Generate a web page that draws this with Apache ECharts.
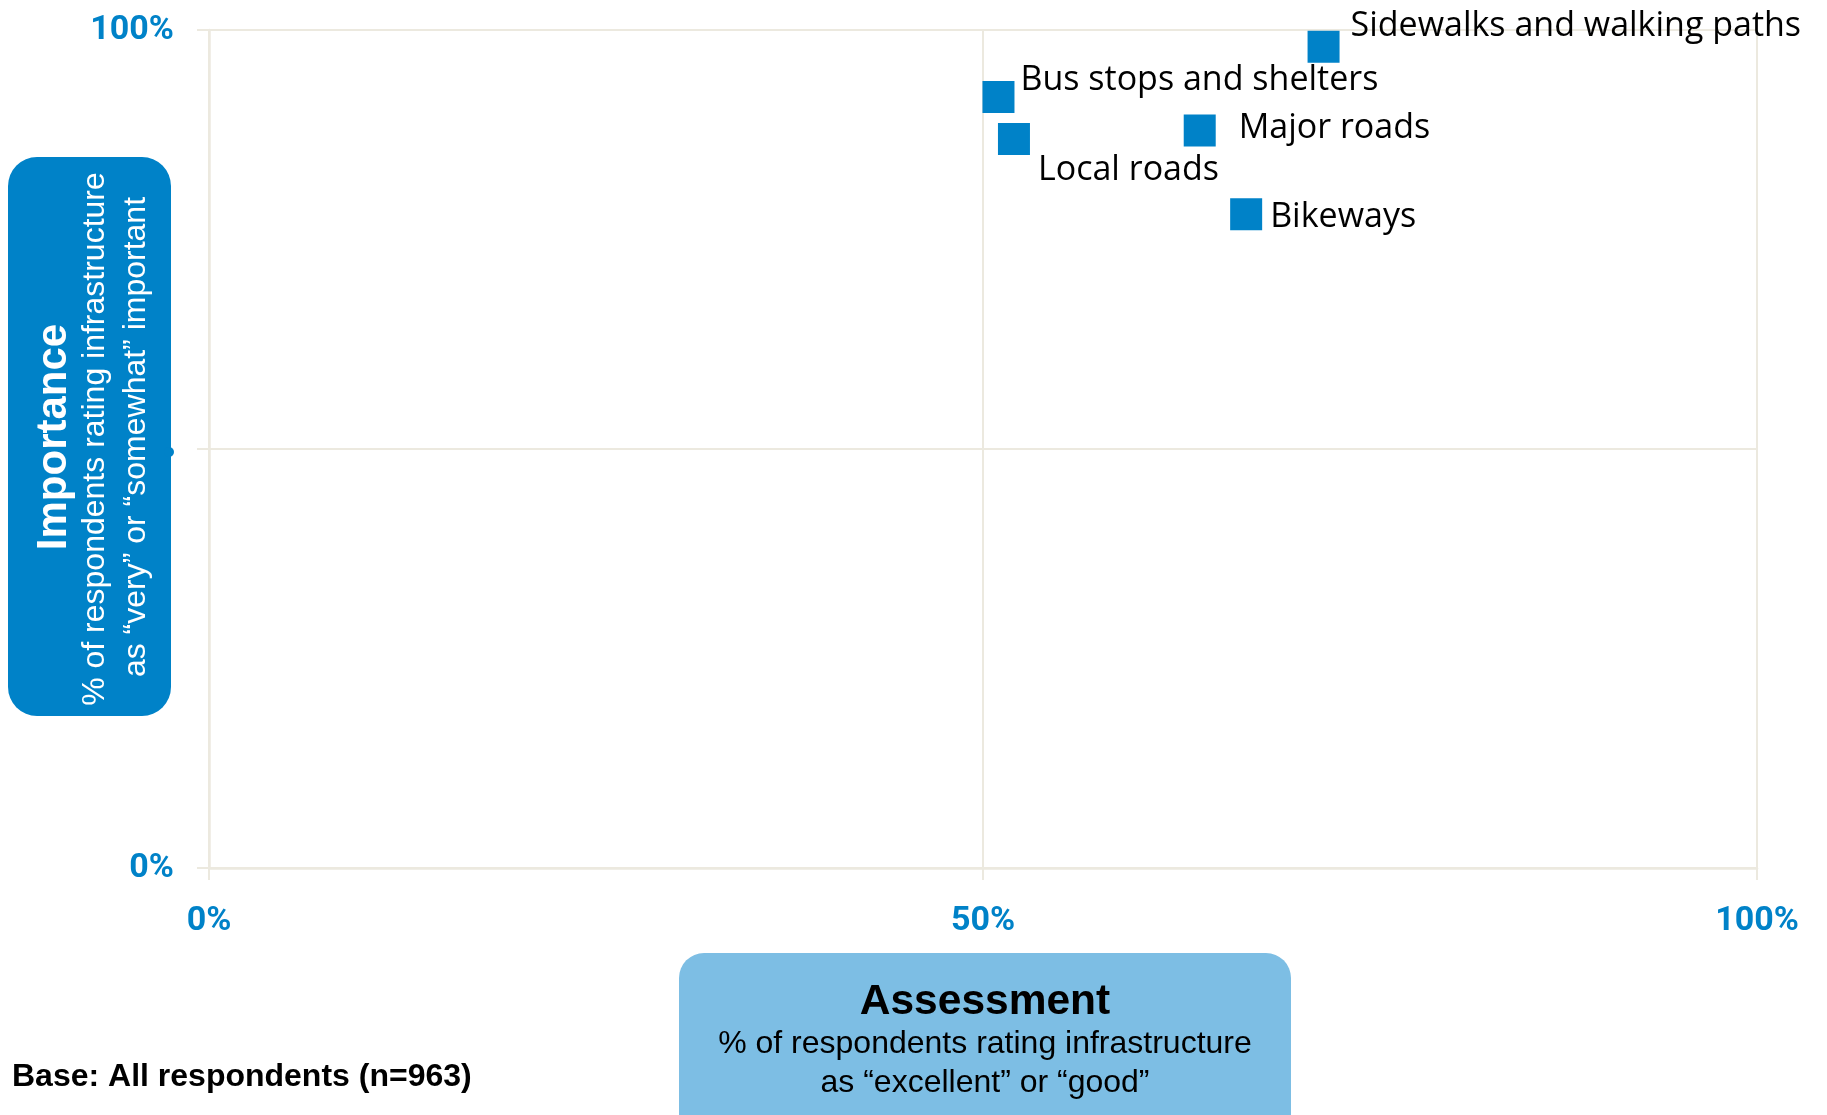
<!DOCTYPE html>
<html>
<head>
<meta charset="utf-8">
<script src="https://cdn.jsdelivr.net/npm/echarts@6/dist/echarts.min.js"></script>
<style>
html,body{margin:0;padding:0;background:#fff;}
#chart{width:1827px;height:1115px;}
</style>
</head>
<body>
<div id="chart"></div>
<script>
// ---- data ----
const categories = ['Sidewalks and walking paths', 'Bus stops and shelters', 'Major roads', 'Local roads', 'Bikeways'];
const assessment = [72, 51, 64, 52, 67];   // x: % excellent/good
const importance = [98, 92, 88, 87, 78];   // y: % very/somewhat important
const xTicks = [0, 50, 100];
const yTicks = [0, 50, 100];

// ---- styles ----
const BLUE = '#0082C8';
const GRID = '#ECE9DF';
const labelFont = '"Open Sans", Lato, sans-serif';
const labelPlacement = {
  'Sidewalks and walking paths': [6, -20],
  'Bus stops and shelters': [1, -17],
  'Major roads': [18, -2],
  'Local roads': [3, 31],
  'Bikeways': [3, 3]
};

const chart = echarts.init(document.getElementById('chart'), null, {renderer: 'canvas'});

const seriesData = categories.map((name, i) => ({
  name: name,
  value: [assessment[i], importance[i]],
  label: {offset: labelPlacement[name]}
}));

const tickLabel = {
  color: BLUE,
  fontFamily: 'Roboto, sans-serif',
  fontWeight: 'bold',
  fontSize: 34,
  lineHeight: 34,
  formatter: v => v + '%'
};

const option = {
  animation: false,
  backgroundColor: '#ffffff',
  grid: {left: 209, right: 70, top: 30, bottom: 247, containLabel: false},
  xAxis: {
    type: 'value', min: xTicks[0], max: xTicks[xTicks.length - 1], interval: xTicks[1] - xTicks[0],
    axisLine: {show: true, lineStyle: {color: GRID, width: 2.5}},
    axisTick: {show: true, length: 12, lineStyle: {color: GRID, width: 2}},
    axisLabel: Object.assign({margin: 36}, tickLabel),
    splitLine: {show: true, lineStyle: {color: GRID, width: 2}}
  },
  yAxis: {
    type: 'value', min: yTicks[0], max: yTicks[yTicks.length - 1], interval: yTicks[1] - yTicks[0],
    axisLine: {show: true, lineStyle: {color: GRID, width: 2.5}},
    axisTick: {show: true, length: 12, lineStyle: {color: GRID, width: 2}},
    axisLabel: Object.assign({}, tickLabel, {margin: 35, lineHeight: 34, padding: [8, 0, 0, 0]}),
    splitLine: {show: true, lineStyle: {color: GRID, width: 2}}
  },
  series: [{
    type: 'scatter',
    symbol: 'rect',
    symbolSize: 32,
    itemStyle: {color: BLUE, opacity: 1},
    data: seriesData,
    label: {
      show: true,
      position: 'right',
      distance: 5,
      formatter: p => p.name,
      color: '#000',
      fontFamily: labelFont,
      fontSize: 34
    },
    z: 5
  }],
  graphic: [
    // Importance box
    {type: 'rect', shape: {x: 8, y: 157, width: 163, height: 559, r: 29}, style: {fill: BLUE}, z: 1},
    {type: 'circle', shape: {cx: 169, cy: 452, r: 5}, style: {fill: BLUE}, z: 1},
    {type: 'text', x: 54, y: 437, rotation: Math.PI / 2, z: 2,
     style: {text: 'Importance', fill: '#fff', font: 'bold 42px "Liberation Sans", Arial, sans-serif', textAlign: 'center', textVerticalAlign: 'middle'}},
    {type: 'text', x: 95, y: 439, rotation: Math.PI / 2, z: 2,
     style: {text: '% of respondents rating infrastructure', fill: '#fff', font: '32px "Liberation Sans", Arial, sans-serif', textAlign: 'center', textVerticalAlign: 'middle'}},
    {type: 'text', x: 136, y: 437, rotation: Math.PI / 2, z: 2,
     style: {text: 'as \u201cvery\u201d or \u201csomewhat\u201d important', fill: '#fff', font: '32px "Liberation Sans", Arial, sans-serif', textAlign: 'center', textVerticalAlign: 'middle'}},
    // Assessment box
    {type: 'rect', shape: {x: 679, y: 953, width: 612, height: 200, r: 25}, style: {fill: '#7DBEE4'}, z: 1},
    {type: 'text', x: 985, y: 1002, z: 2,
     style: {text: 'Assessment', fill: '#000', font: 'bold 42.5px "Liberation Sans", Arial, sans-serif', textAlign: 'center', textVerticalAlign: 'middle'}},
    {type: 'text', x: 985, y: 1044, z: 2,
     style: {text: '% of respondents rating infrastructure', fill: '#000', font: '32px "Liberation Sans", Arial, sans-serif', textAlign: 'center', textVerticalAlign: 'middle'}},
    {type: 'text', x: 985, y: 1083, z: 2,
     style: {text: 'as \u201cexcellent\u201d or \u201cgood\u201d', fill: '#000', font: '32px "Liberation Sans", Arial, sans-serif', textAlign: 'center', textVerticalAlign: 'middle'}},
    // Base note
    {type: 'text', x: 12, y: 1077, z: 2,
     style: {text: 'Base: All respondents (n=963)', fill: '#000', font: 'bold 32px "Liberation Sans", Arial, sans-serif', textAlign: 'left', textVerticalAlign: 'middle'}}
  ]
};

chart.setOption(option);
</script>
</body>
</html>
